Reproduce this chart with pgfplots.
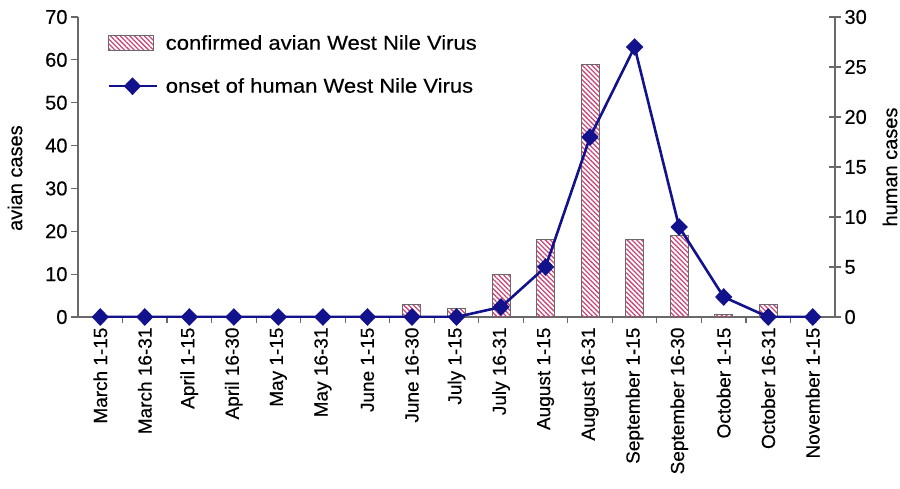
\documentclass[border=0pt]{standalone}
\usepackage{fontspec}
\setmainfont[FakeBold=0.35]{Liberation Sans}
\newfontfamily\legfont[FakeStretch=1.1, FakeBold=0.35]{Liberation Sans}
\usepackage{pgfplots}
\usepackage{pgfplotstable}
\pgfplotsset{compat=1.18}
\usetikzlibrary{patterns.meta}

\definecolor{hatch}{RGB}{200,70,120}
\definecolor{navy}{RGB}{18,18,140}
\definecolor{axgray}{RGB}{105,105,105}

\pgfplotstableread{
x avian human
0 0 0
1 0 0
2 0 0
3 0 0
4 0 0
5 0 0
6 0 0
7 3 0
8 2 0
9 10 1
10 18 5
11 59 18
12 18 27
13 19 9
14 0.7 2
15 3 0
16 0 0
}\data

\pgfplotstableread{
x avian
7 3
8 2
9 10
10 18
11 59
12 18
13 19
14 0.7
15 3
}\bars

\tikzset{hatchbar/.style={pattern={Lines[angle=-45,distance=3.4pt,line width=1.3pt]}, pattern color=hatch, draw=axgray, line width=1pt},
  humanline/.style={navy, line width=2.6pt, mark=diamond*, mark size=7pt, mark options={xscale=1.3, solid}}}

\begin{document}
\begin{tikzpicture}
\useasboundingbox (-78pt,-171pt) rectangle (822pt,317pt);
\begin{axis}[
  at={(0pt,0pt)}, anchor=south west,
  scale only axis, width=757pt, height=300pt,
  xmin=-0.5, xmax=16.5, ymin=0, ymax=70,
  axis y line*=left, axis x line*=bottom,
  axis line style={axgray, line width=1.3pt, -},
  ytick={0,10,...,70},
  xtick={0,...,16},
  xticklabels={March 1-15, March 16-31, April 1-15, April 16-30, May 1-15, May 16-31, June 1-15, June 16-30, July 1-15, July 16-31, August 1-15, August 16-31, September 1-15, September 16-30, October 1-15, October 16-31, November 1-15},
  major x tick style={draw=none},
  minor xtick={0.5,1.5,...,15.5},
  tick align=outside,
  tick style={axgray, line width=1.2pt},
  major tick length=7pt, minor tick length=6pt,
  /pgf/number format/assume math mode=true,
  xticklabel style={rotate=90, anchor=east, font=\fontsize{19}{19}\selectfont},
  yticklabel style={font=\fontsize{20}{20}\selectfont},
  ylabel={avian cases},
  every axis y label/.style={at={(axis description cs:-0.0832,0.463)}, rotate=90, anchor=center, font=\fontsize{20}{20}\selectfont},
]
\addplot[ybar, bar width=18pt, hatchbar] table[x=x,y=avian]{\bars};
\end{axis}
\begin{axis}[
  at={(0pt,0pt)}, anchor=south west,
  scale only axis, width=757pt, height=300pt,
  xmin=-0.5, xmax=16.5, ymin=0, ymax=30,
  axis x line=none, axis y line*=right,
  axis line style={axgray, line width=1.3pt, -},
  ytick={0,5,...,30},
  tick align=center,
  tick style={axgray, line width=1.2pt},
  major tick length=12pt,
  /pgf/number format/assume math mode=true,
  yticklabel style={font=\fontsize{20}{20}\selectfont},
  ylabel={human cases},
  every axis y label/.style={at={(axis description cs:1.0727,0.5)}, rotate=90, anchor=center, font=\fontsize{20}{20}\selectfont},
  legend style={at={(axis description cs:0,1)}, anchor=north west, xshift=26pt, yshift=-14pt, draw=none, fill=none, font=\legfont\fontsize{20}{20}\selectfont, row sep=23pt, nodes={inner xsep=8pt}},
  legend cell align=left,
]
\addlegendimage{legend image code/.code={\draw[hatchbar] (0pt,-7.5pt) rectangle (45pt,7.5pt);}}
\addlegendentry{confirmed avian West Nile Virus}
\addplot[humanline,
  legend image code/.code={\draw[humanline, mark repeat=2, mark phase=2] plot coordinates {(0pt,0pt) (24pt,0pt) (48pt,0pt)};}]
  table[x=x,y=human]{\data};
\addlegendentry{onset of human West Nile Virus}
\end{axis}
\end{tikzpicture}
\end{document}
